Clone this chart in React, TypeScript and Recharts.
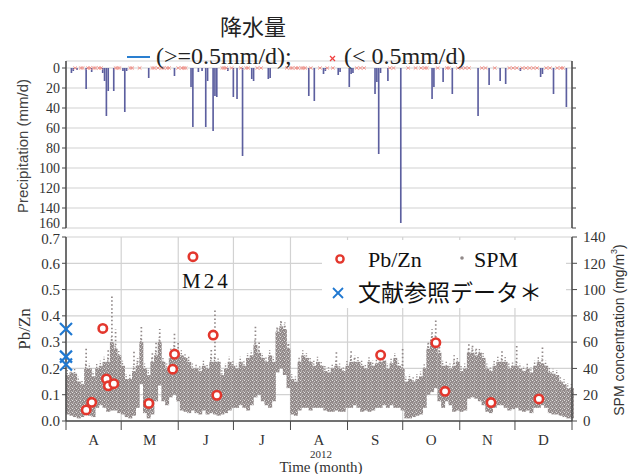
import React from "react";
import { ComposedChart, Bar, Scatter, XAxis, YAxis, CartesianGrid } from "recharts";

// Day index 0 = 1 April 2012, 275 = end of December
const monthStarts = [0, 30, 61, 91, 122, 153, 183, 214, 244, 275];
const monthMids = [15, 45.5, 76, 106.5, 137.5, 168, 198.5, 229, 259.5];
const monthLetters = ["A", "M", "J", "J", "A", "S", "O", "N", "D"];

// Daily precipitation >= 0.5 mm/d
const rainDays = [
  3, 4, 6, 11, 14, 20, 21, 22, 23, 26, 31, 32, 33, 45, 59, 68, 69, 72, 74, 76, 77, 80, 81, 82, 88,
  91, 93, 96, 101, 102, 110, 111, 132, 135, 140, 141, 148, 149, 154, 155, 156, 168, 169, 170, 171,
  175, 182, 199, 200, 205, 210, 224, 230, 236, 239, 247, 258, 259, 265, 272,
];
const rainMm = [
  5, 3, 2, 21, 4, 5, 13, 48, 23, 23, 3, 44, 3, 10, 8, 19, 59, 4, 3, 59, 13, 63, 28, 29, 3,
  29, 31, 88, 11, 13, 11, 10, 28, 33, 6, 3, 7, 4, 19, 6, 5, 26, 14, 86, 5,
  13, 155, 31, 19, 14, 26, 48, 17, 13, 16, 3, 9, 6, 26, 39,
];
// Days with a trace (< 0.5 mm/d)
const drizzleDays = [
  5, 8, 9, 12, 13, 15, 16, 18, 19, 27, 28, 29, 35, 36, 40, 47, 48, 50, 52, 53, 55, 56, 61, 63, 64,
  65, 85, 86, 87, 90, 95, 98, 99, 104, 106, 120, 122, 123, 125, 126, 128, 129, 130, 133, 138, 142,
  145, 158, 160, 162, 176, 178, 186, 190, 193, 195, 196, 202, 207, 208, 213, 215, 217, 219, 226,
  228, 233, 241, 243, 245, 248, 250, 252, 254, 256, 261, 263, 267, 269, 270,
];

// SPM (mg/m3) per two-day block: bottom and top of the dense hourly band, and the highest hour
const spmLow = [
  5, 4, 3, 2, 3, 6, 4, 3, 10, 12, 10, 7, 8, 8, 6, 5, 3, 2, 4, 10, 28, 6, 2, 5, 15, 27, 15, 12, 18, 20, 15, 8, 7, 6, 8,
  6, 5, 8, 5, 6, 5, 4, 5, 6, 8, 10, 10, 12, 10, 8, 12, 18, 20, 15, 12, 10, 15, 37, 40, 35, 25, 5, 4, 8, 10, 10, 8, 10,
  10, 10, 8, 7, 7, 8, 7, 7, 10, 10, 12, 10, 7, 8, 7, 8, 10, 10, 12, 10, 12, 10, 10, 8, 2, 2, 3, 4, 5, 10, 20, 22, 25, 15, 10,
  15, 12, 7, 8, 7, 8, 17, 18, 17, 15, 12, 7, 6, 10, 12, 12, 10, 8, 9, 10, 8, 7, 8, 6, 10, 10, 12, 10, 6, 5, 5, 4, 3, 2, 2,
];
const spmTop = [
  35, 37, 36, 30, 28, 40, 40, 34, 40, 42, 45, 45, 60, 55, 50, 42, 32, 32, 38, 42, 60, 40, 35, 45, 50, 60, 45, 40, 48, 55, 50, 50, 48, 45, 40,
  40, 38, 42, 40, 45, 45, 45, 35, 40, 45, 42, 40, 45, 42, 48, 50, 58, 52, 48, 45, 50, 45, 68, 72, 70, 55, 32, 30, 45, 50, 48, 45, 42,
  45, 42, 38, 37, 40, 42, 40, 38, 42, 45, 45, 45, 42, 40, 45, 42, 44, 45, 46, 40, 44, 48, 42, 40, 30, 32, 30, 32, 34, 40, 55, 62, 62, 52, 42,
  42, 40, 42, 45, 38, 40, 52, 52, 50, 52, 48, 40, 38, 42, 45, 45, 45, 40, 42, 42, 40, 38, 40, 37, 42, 45, 44, 42, 37, 36, 35, 30, 28, 25, 25,
];
const spmPeak = [
  35, 37, 36, 30, 28, 56, 40, 34, 40, 42, 45, 55, 95, 70, 50, 42, 32, 32, 53, 48, 73, 40, 35, 53, 60, 70, 45, 40, 55, 68, 60, 50, 48, 45, 40,
  40, 38, 42, 40, 55, 84, 45, 35, 40, 45, 42, 40, 45, 42, 48, 50, 73, 60, 48, 45, 50, 45, 72, 76, 75, 60, 32, 30, 45, 50, 48, 45, 42,
  45, 42, 38, 37, 40, 53, 40, 38, 42, 53, 50, 45, 42, 40, 45, 42, 44, 45, 46, 40, 44, 48, 42, 56, 30, 32, 30, 32, 34, 40, 60, 70, 78, 60, 42,
  42, 40, 50, 45, 38, 40, 60, 58, 55, 52, 48, 40, 38, 42, 45, 55, 45, 40, 42, 58, 40, 38, 40, 37, 42, 45, 56, 42, 37, 36, 35, 30, 28, 25, 25,
];

// Pb/Zn ratio of sampled filters
const pbDays = [11, 14, 20, 22, 23, 26, 45, 58, 59, 69, 80, 82, 171, 201, 206, 231, 257];
const pbRatio = [0.042, 0.071, 0.352, 0.16, 0.134, 0.142, 0.067, 0.197, 0.254, 0.625, 0.327, 0.098, 0.251, 0.298, 0.113, 0.07, 0.084];

// Literature values
const refRatio = [0.35, 0.245, 0.215];

const rainRows = rainDays.map((day, i) => ({ day, mm: rainMm[i] }));
const drizzleRows = drizzleDays.map((day) => ({ day, mm: 0 }));
const spmRows = spmLow.map((lo, i) => ({
  day: i * 2 + 1,
  lo,
  top: spmTop[i],
  peak: spmPeak[i],
  range: [lo, spmPeak[i]],
}));
const pbRows = pbDays.map((day, i) => ({ day, v: pbRatio[i] }));
const refRows = refRatio.map((v) => ({ day: 0, v }));

const SERIF = "'Liberation Serif', 'Times New Roman', serif";
const SANS = "'Liberation Sans', Arial, sans-serif";
const CJK = "'Noto Sans CJK JP', sans-serif";
const AXIS = "#4a4a4a";
const GRID = "#d2d2d2";
const SPM_GRAY = "#918989";

const tickStyle = { fontSize: 16, fill: "#333", fontFamily: SERIF };

// precipitation ticks; the bottom label sits a little higher, clear of the lower panel
const RainTick = (p: any) => {
  const { x, y, payload } = p;
  return (
    <text x={x} y={payload.value === 160 ? y - 5 : y} dy="0.35em" textAnchor="end" fontSize={14} fill="#333" fontFamily={SERIF}>
      {payload.value}
    </text>
  );
};

// Pb/Zn ticks; the top label is dropped slightly below the precipitation panel
const RatioTick = (p: any) => {
  const { x, y, payload } = p;
  return (
    <text x={x} y={payload.value === 0.7 ? y + 2 : y} dy="0.35em" textAnchor="end" fontSize={15} fill="#333" fontFamily={SERIF}>
      {Number(payload.value).toFixed(1)}
    </text>
  );
};

const DrizzleMark = (p: any) => {
  const { cx, cy } = p;
  return (
    <g stroke="#f0948c" strokeWidth={1}>
      <line x1={cx - 1.8} y1={cy - 1.5} x2={cx + 1.8} y2={cy + 1.5} />
      <line x1={cx - 1.8} y1={cy + 1.5} x2={cx + 1.8} y2={cy - 1.5} />
    </g>
  );
};

const Ring = (p: any) => (
  <circle cx={p.cx} cy={p.cy} r={4.2} fill="#fff" stroke="#e3372d" strokeWidth={2.6} />
);

const BlueCross = (p: any) => {
  const { cx, cy } = p;
  const s = 6;
  return (
    <g stroke="#1f78d1" strokeWidth={2.2}>
      <line x1={cx - s} y1={cy - s} x2={cx + s} y2={cy + s} />
      <line x1={cx - s} y1={cy + s} x2={cx + s} y2={cy - s} />
    </g>
  );
};

// Hourly SPM cloud: grainy band from lo to top, sparse dots from top to peak
const SpmStreak = (p: any) => {
  const { x, y, width, height, index, payload } = p;
  if (x == null || y == null || !height || !payload) return null;
  const yPeak = Math.min(y, y + height);
  const yLo = Math.max(y, y + height);
  const span = payload.peak - payload.lo;
  const yTop = span > 0 ? yLo - ((payload.top - payload.lo) / span) * (yLo - yPeak) : yPeak;
  const cx = x + width / 2;
  const off = (index * 1.3) % 4;
  return (
    <g>
      <rect x={cx - 2} y={yTop} width={4} height={yLo - yTop} fill="url(#spmGrain)" />
      <line x1={cx - 0.5} x2={cx - 0.5} y1={yTop - 5} y2={yTop} stroke={SPM_GRAY} strokeWidth={1.4} strokeDasharray="1.3 1.6" strokeDashoffset={off} />
      {yTop - yPeak > 1 && (
        <line
          x1={cx}
          x2={cx}
          y1={yPeak}
          y2={yTop}
          stroke={SPM_GRAY}
          strokeWidth={1.7}
          strokeDasharray="1.5 2.4"
          strokeDashoffset={off}
        />
      )}
    </g>
  );
};

export default function App() {
  return (
    <div style={{ position: "absolute", left: 0, top: 0, width: 629, height: 474, background: "#fff" }}>
      <svg width={0} height={0} style={{ position: "absolute" }}>
        <defs>
          <pattern id="spmGrain" width={4} height={4} patternUnits="userSpaceOnUse">
            <rect width={4} height={4} fill={SPM_GRAY} />
            <rect x={0} y={0} width={1} height={1} fill="#fff" opacity={0.75} />
            <rect x={2} y={1} width={1} height={1} fill="#fff" opacity={0.55} />
            <rect x={1} y={2.5} width={0.9} height={0.9} fill="#fff" opacity={0.65} />
            <rect x={3} y={3} width={1} height={1} fill="#fff" opacity={0.45} />
          </pattern>
        </defs>
      </svg>

      {/* precipitation panel */}
      <div style={{ position: "absolute", left: 0, top: 0 }}>
        <ComposedChart width={629} height={240} data={rainRows} margin={{ top: 61, right: 0, bottom: 12, left: 0 }}>
          <CartesianGrid stroke={GRID} strokeWidth={1.2} />
          <XAxis dataKey="day" type="number" domain={[0, 275]} ticks={monthStarts} interval={0} tick={false} tickLine={false} axisLine={false} height={0} />
          <YAxis
            reversed
            type="number"
            domain={[-7, 160]}
            ticks={[0, 20, 40, 60, 80, 100, 120, 140, 160]}
            interval={0}
            allowDataOverflow
            width={66}
            tick={<RainTick />}
            tickSize={4}
            axisLine={{ stroke: AXIS, strokeWidth: 1.5 }}
            tickLine={{ stroke: AXIS }}
          />
          <YAxis
            yAxisId="r"
            orientation="right"
            reversed
            type="number"
            domain={[-7, 160]}
            ticks={[0, 20, 40, 60, 80, 100, 120, 140, 160]}
            interval={0}
            allowDataOverflow
            width={57}
            tickFormatter={() => ""}
            tickSize={4}
            axisLine={{ stroke: AXIS, strokeWidth: 1.5 }}
            tickLine={{ stroke: AXIS }}
          />
          <Bar dataKey="mm" barSize={2} fill="#5c5f9f" isAnimationActive={false} />
          <Scatter data={drizzleRows} dataKey="mm" shape={<DrizzleMark />} isAnimationActive={false} />
        </ComposedChart>
      </div>

      {/* Pb/Zn and SPM panel */}
      <div style={{ position: "absolute", left: 0, top: 0 }}>
        <ComposedChart width={629} height={474} data={spmRows} margin={{ top: 237, right: 0, bottom: 0, left: 0 }}>
          <CartesianGrid xAxisId="b" yAxisId="l" stroke={GRID} strokeWidth={1.2} />
          <XAxis
            xAxisId="b"
            dataKey="day"
            type="number"
            domain={[0, 275]}
            ticks={monthStarts}
            interval={0}
            height={9}
            tickSize={9}
            tickFormatter={() => ""}
            axisLine={{ stroke: AXIS, strokeWidth: 1.5 }}
            tickLine={{ stroke: AXIS }}
          />
          <XAxis
            xAxisId="m"
            dataKey="day"
            type="number"
            domain={[0, 275]}
            ticks={monthMids}
            interval={0}
            height={44}
            tickLine={false}
            axisLine={false}
            tickMargin={-2}
            tick={{ ...tickStyle, fontSize: 15 }}
            tickFormatter={(v: number) => monthLetters[monthMids.indexOf(v)] ?? ""}
          />
          <YAxis
            yAxisId="l"
            type="number"
            domain={[0, 0.7]}
            ticks={[0, 0.1, 0.2, 0.3, 0.4, 0.5, 0.6, 0.7]}
            interval={0}
            width={66}
            tick={<RatioTick />}
            tickSize={4}
            axisLine={{ stroke: AXIS, strokeWidth: 1.5 }}
            tickLine={{ stroke: AXIS }}
          />
          <YAxis
            yAxisId="s"
            orientation="right"
            type="number"
            domain={[0, 140]}
            ticks={[0, 20, 40, 60, 80, 100, 120, 140]}
            interval={0}
            width={57}
            tick={{ ...tickStyle, fontSize: 15, textAnchor: "start" }}
            tickSize={5}
            tickMargin={6}
            axisLine={{ stroke: AXIS, strokeWidth: 1.5 }}
            tickLine={{ stroke: AXIS }}
          />
          <Bar xAxisId="b" yAxisId="s" dataKey="range" barSize={4} shape={<SpmStreak />} isAnimationActive={false} />
          <Scatter xAxisId="b" yAxisId="l" data={pbRows} dataKey="v" shape={<Ring />} isAnimationActive={false} />
          <Scatter xAxisId="b" yAxisId="l" data={refRows} dataKey="v" shape={<BlueCross />} isAnimationActive={false} />
        </ComposedChart>
      </div>

      {/* titles, legends and annotations */}
      <svg width={629} height={474} style={{ position: "absolute", left: 0, top: 0, pointerEvents: "none" }}>
        <text x={253} y={35} textAnchor="middle" fontSize={22} fontFamily={CJK} fill="#222">降水量</text>
        <line x1={127} x2={150} y1={57} y2={57} stroke="#2a7fd0" strokeWidth={2} />
        <text x={156} y={64} fontSize={24} fontFamily={SERIF} fill="#222">(&gt;=0.5mm/d);</text>
        <g stroke="#f04040" strokeWidth={1.3}>
          <line x1={330} y1={56} x2={335} y2={61} />
          <line x1={330} y1={61} x2={335} y2={56} />
        </g>
        <text x={344} y={64} fontSize={24} fontFamily={SERIF} fill="#222">(&lt; 0.5mm/d)</text>

        <text transform="translate(22,146) rotate(-90)" textAnchor="middle" dominantBaseline="central" fontSize={15} fontFamily={SANS} fill="#444">
          Precipitation (mm/d)
        </text>
        <text transform="translate(24,329) rotate(-90)" textAnchor="middle" dominantBaseline="central" fontSize={17} fontFamily={SERIF} fill="#333">
          Pb/Zn
        </text>
        <text transform="translate(619,330) rotate(-90)" textAnchor="middle" dominantBaseline="central" fontSize={14} fontFamily={SANS} fill="#333">
          SPM concentration (mg/m<tspan dy={-5} fontSize={9}>3</tspan><tspan dy={5}>)</tspan>
        </text>

        <text x={182} y={288} fontSize={21} fontFamily={SERIF} letterSpacing={3} fill="#111">M24</text>

        <rect x={322} y={240} width={244} height={68} fill="#fff" />
        <circle cx={340} cy={259} r={3.6} fill="#fff" stroke="#e3372d" strokeWidth={2.4} />
        <text x={368} y={267} fontSize={22} fontFamily={SERIF} fill="#111">Pb/Zn</text>
        <circle cx={462} cy={258} r={1.8} fill={SPM_GRAY} />
        <text x={474} y={267} fontSize={22} fontFamily={SERIF} fill="#111">SPM</text>
        <g stroke="#1f78d1" strokeWidth={1.8}>
          <line x1={333} y1={288} x2={343} y2={298} />
          <line x1={333} y1={298} x2={343} y2={288} />
        </g>
        <text x={358} y={301} fontSize={23} fontFamily={CJK} fill="#111">文献参照データ＊</text>

        <text x={321} y={458} textAnchor="middle" fontSize={11} fontFamily={SERIF} fill="#333">2012</text>
        <text x={321} y={472} textAnchor="middle" fontSize={15} fontFamily={SERIF} fill="#333">Time (month)</text>
      </svg>
    </div>
  );
}
